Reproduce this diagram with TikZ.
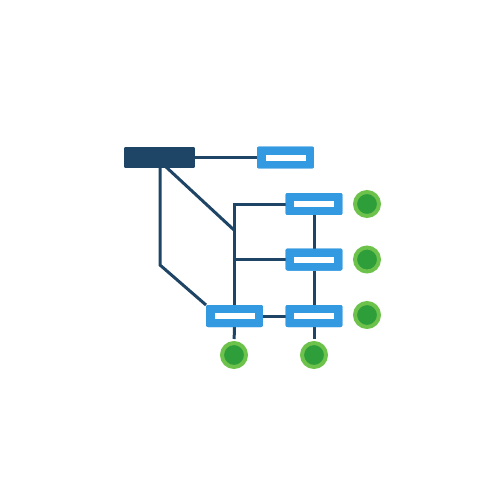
\documentclass[tikz,border=0pt]{standalone}
\definecolor{navy}{HTML}{1F4566}
\definecolor{boxblue}{HTML}{3399E0}
\definecolor{lgreen}{HTML}{6CC24A}
\definecolor{dgreen}{HTML}{2E9E3A}
\begin{document}
\begin{tikzpicture}[x=0.02cm,y=-0.02cm,
  navybox/.style={rectangle,fill=navy,rounded corners=0.04cm,minimum width=1.42cm,minimum height=0.42cm,inner sep=0pt,outer sep=0pt},
  bluebox/.style={rectangle,fill=boxblue,rounded corners=0.04cm,minimum width=1.14cm,minimum height=0.44cm,inner sep=0pt,outer sep=0pt},
  bar/.style={rectangle,fill=white,minimum width=0.8cm,minimum height=0.12cm,inner sep=0pt,outer sep=0pt},
  dot/.style={circle,fill=dgreen,draw=lgreen,line width=0.08cm,minimum size=0.48cm,inner sep=0pt,outer sep=0pt},
  link/.style={draw=navy,line width=0.06cm}]
\useasboundingbox (0,0) rectangle (500,500);
\fill[white] (0,0) rectangle (500,500);
% connectors (drawn first, under boxes)
\coordinate (d0) at (165,166);
\coordinate (j) at (234,230);
\coordinate (s0) at (234,204);
\coordinate (k) at (160,265);
\node[navybox] (root) at (159.5,157.5) {};
\node[bluebox] (t) at (285.5,157.5) {};
\node[bluebox] (r1) at (314,204) {};
\node[bluebox] (r2) at (314,259.5) {};
\node[bluebox] (r3) at (314,316) {};
\node[bluebox] (l3) at (234.5,316) {};
\begin{scope}[on background layer/.try]
\end{scope}
\path[link] (root.east) -- (t.west);
\path[link] (d0) -- (j);
\path[link] (r1.west) -- (s0) -- (s0 |- l3.north);
\path[link] (r2.west) -- (r2.west -| s0);
\path[link] (root.south -| k) -- (k) -- (l3.north west);
\path[link] (l3.east) -- (r3.west);
\path[link] (r1.south) -- (r2.north);
\path[link] (r2.south) -- (r3.north);
\node[dot] (c1) at (367,204) {};
\node[dot] (c2) at (367,259.5) {};
\node[dot] (c3) at (367,315) {};
\node[dot] (c4) at (234,355) {};
\node[dot] (c5) at (314,355) {};
\path[link,shorten >=0.08cm] (l3.south) -- (c4.north);
\path[link,shorten >=0.08cm] (r3.south) -- (c5.north);
% redraw boxes on top of lines
\node[navybox] (root2) at (root) {};
\node[bluebox] (t2) at (t) {};
\node[bluebox] (r1b) at (r1) {};
\node[bluebox] (r2b) at (r2) {};
\node[bluebox] (r3b) at (r3) {};
\node[bluebox] (l3b) at (l3) {};
\node[bar] (tbar) at (t) {};
\node[bar] (r1bar) at (r1) {};
\node[bar] (r2bar) at (r2) {};
\node[bar] (r3bar) at (r3) {};
\node[bar] (l3bar) at (l3) {};
\end{tikzpicture}
\end{document}
